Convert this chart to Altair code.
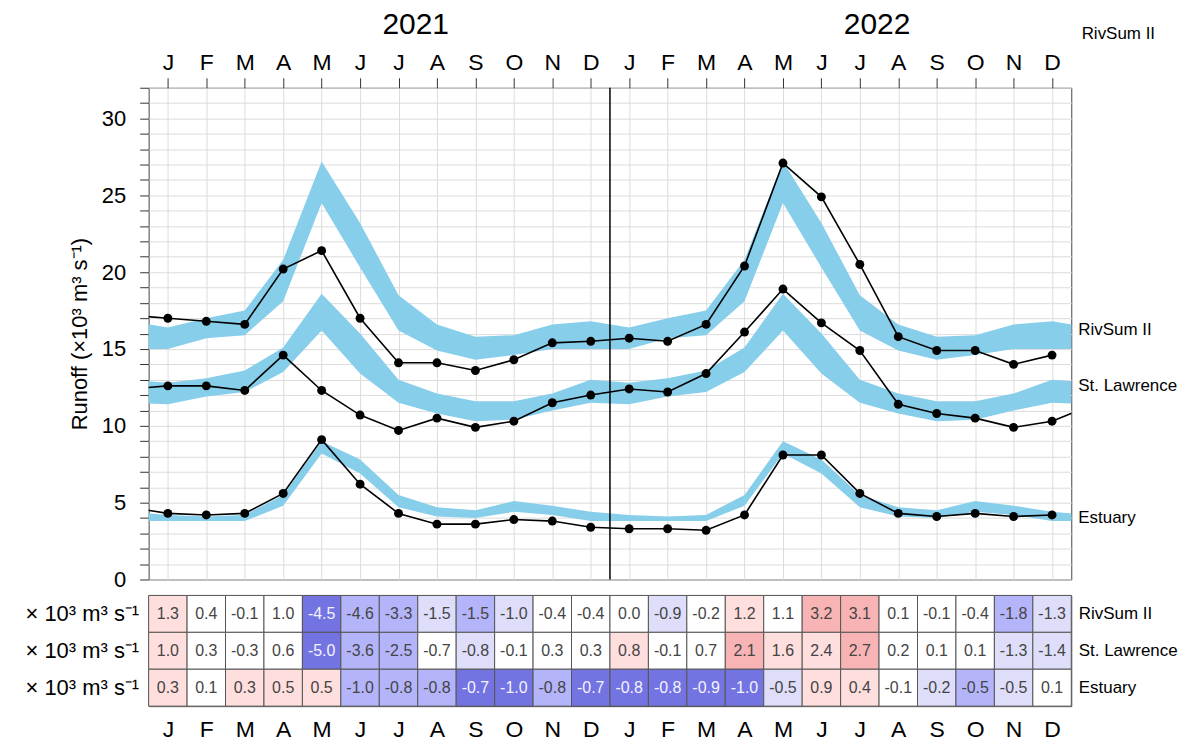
import altair as alt
import pandas as pd

months = ["J", "F", "M", "A", "M", "J", "J", "A", "S", "O", "N", "D"]
years = ["2021", "2022"]
series = ["RivSum II", "St. Lawrence", "Estuary"]

# observed monthly runoff, Jan 2021 - Dec 2022 (x10^3 m3/s)
rivsum_obs = [17.0, 16.8, 16.6, 20.2, 21.4, 17.0, 14.1, 14.1, 13.6, 14.3, 15.4, 15.5,
              15.7, 15.5, 16.6, 20.4, 27.1, 24.9, 20.5, 15.8, 14.9, 14.9, 14.0, 14.6]
stl_obs = [12.6, 12.6, 12.3, 14.6, 12.3, 10.7, 9.7, 10.5, 9.9, 10.3, 11.5, 12.0,
           12.4, 12.2, 13.4, 16.1, 18.9, 16.7, 14.9, 11.4, 10.8, 10.5, 9.9, 10.3]
est_obs = [4.3, 4.2, 4.3, 5.6, 9.1, 6.2, 4.3, 3.6, 3.6, 3.9, 3.8, 3.4,
           3.3, 3.3, 3.2, 4.2, 8.1, 8.1, 5.6, 4.3, 4.1, 4.3, 4.1, 4.2]
# values just outside the window (Dec 2020, Jan 2023)
prev_dec_2020 = [17.2, 12.4, 4.7]
next_jan_2023 = [None, 11.3, None]

# climatological range (monthly)
riv_lo = [15.0, 15.7, 15.9, 18.1, 24.5, 20.3, 16.2, 14.9, 14.3, 14.6, 15.0, 15.0]
riv_hi = [16.4, 17.0, 17.5, 20.8, 27.2, 23.2, 18.5, 16.6, 15.8, 15.9, 16.6, 16.8]
stl_lo = [11.4, 11.9, 12.2, 13.5, 16.2, 13.4, 11.5, 10.8, 10.3, 10.4, 11.0, 11.5]
stl_hi = [12.8, 13.1, 13.6, 15.1, 18.6, 16.0, 13.0, 12.1, 11.6, 11.6, 12.1, 13.0]
est_lo = [3.8, 3.8, 3.8, 4.8, 8.2, 6.9, 4.7, 4.1, 4.0, 4.4, 4.2, 3.8]
est_hi = [4.2, 4.1, 4.2, 5.5, 9.0, 7.8, 5.5, 4.7, 4.5, 5.1, 4.8, 4.4]

# anomalies table
rivsum_anom = [1.3, 0.4, -0.1, 1.0, -4.5, -4.6, -3.3, -1.5, -1.5, -1.0, -0.4, -0.4,
               0.0, -0.9, -0.2, 1.2, 1.1, 3.2, 3.1, 0.1, -0.1, -0.4, -1.8, -1.3]
stl_anom = [1.0, 0.3, -0.3, 0.6, -5.0, -3.6, -2.5, -0.7, -0.8, -0.1, 0.3, 0.3,
            0.8, -0.1, 0.7, 2.1, 1.6, 2.4, 2.7, 0.2, 0.1, 0.1, -1.3, -1.4]
est_anom = [0.3, 0.1, 0.3, 0.5, 0.5, -1.0, -0.8, -0.8, -0.7, -1.0, -0.8, -0.7,
            -0.8, -0.8, -0.9, -1.0, -0.5, 0.9, 0.4, -0.1, -0.2, -0.5, -0.5, 0.1]
# standardized anomaly class of each cell
rivsum_cls = [1, 0, 0, 0, -3, -2, -2, -1, -2, -1, 0, 0,
              0, -1, 0, 1, 0, 2, 2, 0, 0, 0, -2, -1]
stl_cls = [1, 0, 0, 0, -3, -2, -2, 0, -1, 0, 0, 0,
           1, 0, 0, 2, 1, 1, 2, 0, 0, 0, -1, -1]
est_cls = [1, 0, 1, 1, 1, -2, -2, -2, -3, -3, -2, -3,
           -3, -3, -3, -3, -1, 1, 1, 0, -1, -2, -1, 0]
cls_levels = [-3, -2, -1, 0, 1, 2]
cls_colors = ["#7373e2", "#b4b4fa", "#dedefa", "#ffffff", "#ffdede", "#f8b4b4"]

FONT = "Liberation Sans"
n = len(months) * len(years)

# ---------- data frames ----------
band_rows = []
for s, lo, hi in zip(series, [riv_lo, stl_lo, est_lo], [riv_hi, stl_hi, est_hi]):
    for i in range(-1, n + 1):
        band_rows.append(dict(series=s, idx=i, lo=lo[i % 12], hi=hi[i % 12]))
band_df = pd.DataFrame(band_rows)

obs_rows = []
for k, (s, vals) in enumerate(zip(series, [rivsum_obs, stl_obs, est_obs])):
    obs_rows.append(dict(series=s, idx=-1, v=prev_dec_2020[k], pt=0))
    for i, v in enumerate(vals):
        obs_rows.append(dict(series=s, idx=i, v=v, pt=1))
    if next_jan_2023[k] is not None:
        obs_rows.append(dict(series=s, idx=n, v=next_jan_2023[k], pt=0))
obs_df = pd.DataFrame(obs_rows)

lab_df = pd.DataFrame(dict(series=series, x=[n - 0.5] * 3,
                           y=[riv_hi[0], stl_hi[0], est_hi[0]]))
rule_df = pd.DataFrame(dict(x=[len(months) - 0.5]))

xscale = alt.Scale(domain=[-0.5, n - 0.5], nice=False, zero=False)
yscale = alt.Scale(domain=[0, 32], nice=False, zero=False)

month_expr = f"{months}[datum.value % 12]"
year_expr = f"{years}[floor(datum.value / 12)]"

# ---------- main panel ----------
band = alt.Chart(band_df).mark_area(color="#87ceeb", opacity=1, clip=True).encode(
    x=alt.X("idx:Q", scale=xscale,
            axis=alt.Axis(orient="top", values=list(range(n)), labelExpr=month_expr,
                          labelFontSize=23, labelColor="black", labelFont=FONT,
                          tickSize=10, tickColor="#333", tickWidth=1,
                          labelPadding=3, domain=False, grid=True,
                          gridColor="#dcdcdc", gridWidth=1, title=None)),
    y=alt.Y("lo:Q", scale=yscale,
            axis=alt.Axis(values=list(range(33)),
                          labelExpr="datum.value % 5 == 0 ? datum.label : ''",
                          labelFontSize=22, labelColor="black", labelFont=FONT,
                          tickSize=9, tickColor="#333", labelPadding=14,
                          domain=False, grid=True, gridColor="#dcdcdc",
                          title="Runoff (×10³ m³ s⁻¹)", titleFontSize=22,
                          titleFontWeight="normal", titleFont=FONT,
                          titleColor="black", titlePadding=10)),
    y2="hi:Q",
    detail="series:N",
)

line = alt.Chart(obs_df).mark_line(color="black", strokeWidth=1.6, clip=True).encode(
    x=alt.X("idx:Q", scale=xscale, axis=None),
    y=alt.Y("v:Q", scale=yscale, axis=None),
    detail="series:N",
)

pts = alt.Chart(obs_df).transform_filter("datum.pt == 1").mark_circle(
    color="black", opacity=1, size=80).encode(
    x=alt.X("idx:Q", scale=xscale, axis=None),
    y=alt.Y("v:Q", scale=yscale, axis=None),
)

rule = alt.Chart(rule_df).mark_rule(color="black", strokeWidth=1.5).encode(
    x=alt.X("x:Q", scale=xscale,
            axis=alt.Axis(orient="top", values=[5.5, 17.5], labelExpr=year_expr,
                          labelOffset=36, ticks=False, domain=False, grid=False,
                          labelFontSize=30, labelColor="black", labelFont=FONT,
                          labelPadding=0, offset=48, title=None)),
)

labels = alt.Chart(lab_df).mark_text(align="left", baseline="middle", dx=7, dy=3,
                                     fontSize=17, font=FONT, color="black").encode(
    x=alt.X("x:Q", scale=xscale, axis=None),
    y=alt.Y("y:Q", scale=yscale, axis=None),
    text="series:N",
)

main = alt.layer(band, line, pts, rule, labels).resolve_axis(
    x="independent", y="independent").properties(
    width=925, height=493,
    title=alt.TitleParams("RivSum II", anchor="end", frame="group", orient="top",
                          fontSize=17, fontWeight="normal", font=FONT, color="black",
                          dx=84, offset=-33),
)

# ---------- anomaly table ----------
tab_rows = []
for s, anom, cls in zip(series, [rivsum_anom, stl_anom, est_anom],
                        [rivsum_cls, stl_cls, est_cls]):
    for i in range(n):
        tab_rows.append(dict(series=s, idx=i, x0=i - 0.5, x1=i + 0.5,
                             txt=f"{anom[i]:.1f}", cls=cls[i]))
tab_df = pd.DataFrame(tab_rows)

yband = alt.Scale(paddingInner=0, paddingOuter=0)

cells = alt.Chart(tab_df).mark_rect(stroke="#555", strokeWidth=1).encode(
    x=alt.X("x0:Q", scale=xscale,
            axis=alt.Axis(orient="bottom", values=list(range(n)), labelExpr=month_expr,
                          labelFontSize=23, labelColor="black", labelFont=FONT,
                          ticks=False, domain=False, grid=False, labelPadding=12,
                          title=None)),
    x2="x1:Q",
    y=alt.Y("series:N", sort=series, scale=yband,
            axis=alt.Axis(orient="left", labelExpr="'× 10³ m³ s⁻¹'", labelFontSize=22,
                          labelColor="black", labelFont=FONT, ticks=False,
                          domain=False, labelPadding=10, title=None)),
    fill=alt.Fill("cls:O", scale=alt.Scale(domain=cls_levels, range=cls_colors),
                  legend=None),
)

cell_txt = alt.Chart(tab_df).mark_text(fontSize=16, font=FONT).encode(
    x=alt.X("idx:Q", scale=xscale, axis=None),
    y=alt.Y("series:N", sort=series, scale=yband,
            axis=alt.Axis(orient="right", labelFontSize=17, labelColor="black",
                          labelFont=FONT, ticks=False, domain=False,
                          labelPadding=7, title=None)),
    text="txt:N",
    color=alt.condition("datum.cls == -3", alt.value("#f4f4ff"), alt.value("#444")),
)

table = alt.layer(cells, cell_txt).resolve_axis(
    x="independent", y="independent").properties(width=925, height=111)

chart = alt.vconcat(main, table, spacing=3).properties(
    padding={"left": 16, "top": 0, "right": 0, "bottom": 0}).configure(
    font=FONT).configure_view(stroke="#444", strokeWidth=1)

chart.save("out.html", embed_options={"renderer": "svg", "actions": False})
